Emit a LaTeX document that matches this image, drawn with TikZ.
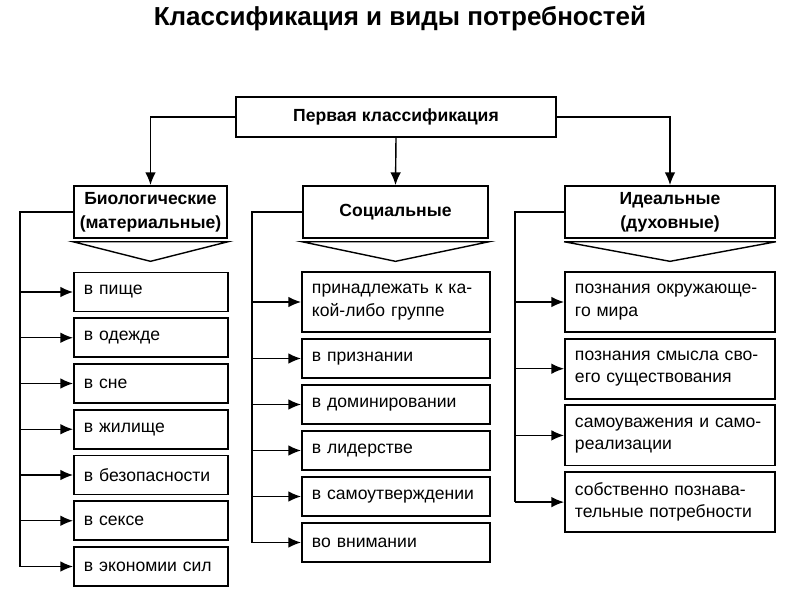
\documentclass[tikz,border=0pt]{standalone}
\usepackage{fontspec}
\setmainfont{Liberation Sans}
\usetikzlibrary{arrows.meta}

\begin{document}
\begin{tikzpicture}[x=0.025cm,y=-0.025cm]
  \tikzstyle{box} = [draw=black, line width=1.3pt, inner sep=0pt, font=\fontsize{12.5}{16}\selectfont]
  \tikzstyle{head} = [box, font=\fontsize{12.5}{17}\selectfont\bfseries, align=center, minimum height=1.3cm]
  \tikzstyle{item} = [box, align=left, inner xsep=0.25cm, minimum height=0.975cm]
  \tikzstyle{wire} = [line width=1pt]
  \tikzstyle{arr} = [wire, -{Latex[length=9pt,width=7.5pt]}]
  \useasboundingbox (0,0) rectangle (800,600);

  \node[font=\fontsize{18.5}{22}\selectfont\bfseries] (title) at (400,19) {Классификация и виды потребностей};
  \node[head, minimum width=8cm, minimum height=1cm] (top) at (396,117) {Первая классификация};

  % three kinds
  \node[head, minimum width=3.825cm] (bio) at (150.5,212) {Биологические\\(материальные)};
  \node[head, minimum width=4.625cm] (soc) at (395.5,212) {Социальные};
  \node[head, minimum width=5.25cm] (ide) at (670,212) {Идеальные\\(духовные)};
  \draw[arr] (top.west) -| (bio.north);
  \draw[arr] (top.south) -- (soc.north);
  \draw[arr] (top.east) -| (ide.north);
  \foreach \h in {bio,soc,ide}
    \draw[wire, fill=white] ([yshift=-2pt]\h.south west) -- ([yshift=-0.56cm]\h.south) -- ([yshift=-2pt]\h.south east) -- cycle;

  % biological
  \foreach \t [count=\i] in {в пище, в одежде, в сне, в жилище, в безопасности, в сексе, в экономии сил}
    \node[item, text width=3.35cm] (b\i) at (151,{292+45.75*(\i-1)}) {\t};
  \coordinate (bl) at (20,0);
  \draw[wire] (bio.west) -- (bio.west -| bl) -- (b7.west -| bl);
  \foreach \i in {1,...,7}
    \draw[arr] (b\i.west -| bl) -- (b\i.west);

  % social
  \node[item, text width=4.2cm, minimum height=1.5cm] (s1) at (396,302) {принадлежать к ка-\\кой-либо группе};
  \foreach \t [count=\i from 2] in {в признании, в доминировании, в лидерстве, в самоутверждении, во внимании}
    \node[item, text width=4.2cm] (s\i) at (396,{358.5+46*(\i-2)}) {\t};
  \coordinate (sl) at (252,0);
  \draw[wire] (soc.west) -- (soc.west -| sl) -- (s6.west -| sl);
  \foreach \i in {1,...,6}
    \draw[arr] (s\i.west -| sl) -- (s\i.west);

  % ideal
  \foreach \t [count=\i] in {{познания окружающе-\\го мира}, {познания смысла сво-\\его существования},
      {самоуважения и само-\\реализации}, {собственно познава-\\тельные потребности}}
    \node[item, text width=4.75cm, minimum height=1.5cm] (d\i) at (670,{302+66.7*(\i-1)}) {\t};
  \coordinate (il) at (515,0);
  \draw[wire] (ide.west) -- (ide.west -| il) -- (d4.west -| il);
  \foreach \i in {1,...,4}
    \draw[arr] (d\i.west -| il) -- (d\i.west);
\end{tikzpicture}
\end{document}
